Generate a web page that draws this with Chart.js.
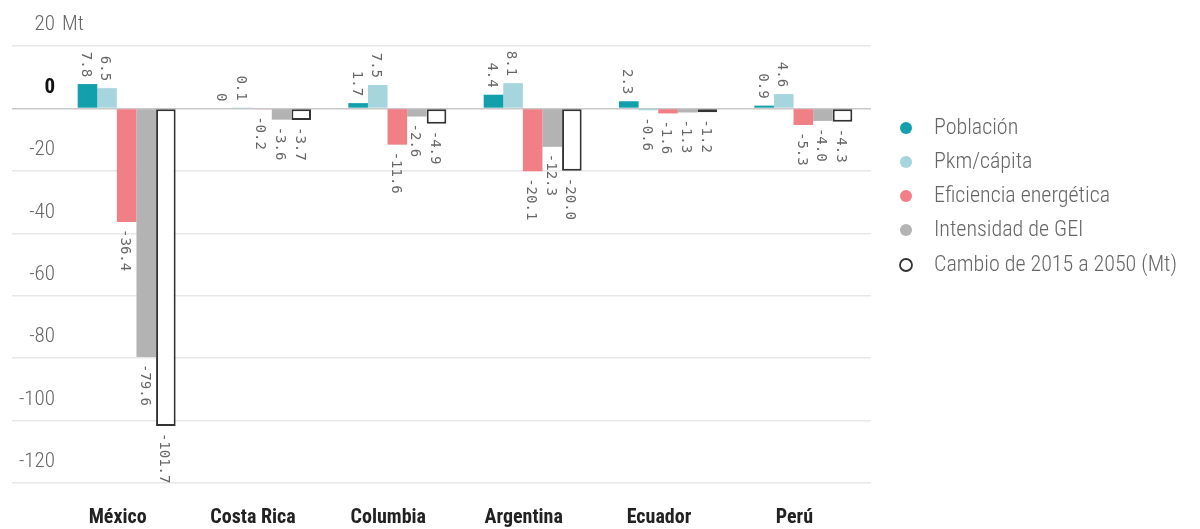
<!DOCTYPE html>
<html><head><meta charset="utf-8">
<script src="https://cdn.jsdelivr.net/npm/chart.js@4.4.1/dist/chart.umd.min.js"></script>
<style>html,body{margin:0;padding:0;background:#fff}#wrap{width:1200px;height:529px;position:relative}</style>
</head><body><div id="wrap"><canvas id="c"></canvas></div>
<script>
const categories = ['México','Costa Rica','Columbia','Argentina','Ecuador','Perú'];
const poblacion   = [7.8, 0, 1.7, 4.4, 2.3, 0.9];
const pkmCapita   = [6.5, 0.1, 7.5, 8.1, -0.6, 4.6];
const eficiencia  = [-36.4, -0.2, -11.6, -20.1, -1.6, -5.3];
const intensidad  = [-79.6, -3.6, -2.6, -12.3, -1.3, -4.0];
const cambio      = [-101.7, -3.7, -4.9, -20.0, -1.2, -4.3];
const seriesNames = ['Población','Pkm/cápita','Eficiencia energética','Intensidad de GEI','Cambio de 2015 a 2050 (Mt)'];
const yTicks = [20, 0, -20, -40, -60, -80, -100, -120];

const colors = ['#139fac','#a7d5dd','#f07f86','#b3b3b3','#ffffff'];
const COND = '"Roboto Condensed", "Roboto", sans-serif';

const valueLabels = {
  id: 'valueLabels',
  afterDatasetsDraw(chart) {
    const ctx = chart.ctx;
    ctx.save();
    ctx.font = '14px "DejaVu Sans Mono", monospace';
    ctx.fillStyle = '#666';
    ctx.textBaseline = 'middle';
    chart.data.datasets.forEach((ds, di) => {
      const meta = chart.getDatasetMeta(di);
      meta.data.forEach((bar, i) => {
        const v = ds.data[i];
        const txt = v === 0 ? '0' : v.toFixed(1);
        ctx.save();
        if (v >= 0) {
          ctx.translate(bar.x - 2, Math.min(bar.y, bar.base) - 7);
          ctx.rotate(Math.PI / 2);
          ctx.textAlign = 'right';
        } else {
          ctx.translate(bar.x - 2, Math.max(bar.y, bar.base) + 7);
          ctx.rotate(Math.PI / 2);
          ctx.textAlign = 'left';
        }
        ctx.fillText(txt, 0, 0);
        ctx.restore();
      });
    });
    ctx.restore();
  }
};

const extras = {
  id: 'extras',
  afterDraw(chart) {
    const ctx = chart.ctx;
    const y = chart.scales.y;
    ctx.save();
    ctx.font = '300 21px ' + COND;
    ctx.fillStyle = '#666';
    ctx.textBaseline = 'middle';
    ctx.textAlign = 'left';
    ctx.fillText('Mt', 62, y.getPixelForValue(20) - 21);
    const rows = [128, 162, 196, 230, 265];
    seriesNames.forEach((name, i) => {
      const cy = rows[i];
      ctx.beginPath();
      ctx.arc(906, cy, 6, 0, Math.PI * 2);
      if (i === 4) {
        ctx.fillStyle = '#fff'; ctx.fill();
        ctx.lineWidth = 1.8; ctx.strokeStyle = '#333'; ctx.stroke();
      } else {
        ctx.fillStyle = colors[i]; ctx.fill();
      }
      ctx.fillStyle = '#666';
      ctx.font = '300 22px ' + COND;
      ctx.fillText(name, 934, cy);
    });
    ctx.restore();
  }
};

const data = {
  labels: categories,
  datasets: [poblacion, pkmCapita, eficiencia, intensidad, cambio].map((arr, i) => ({
    label: seriesNames[i],
    data: arr,
    backgroundColor: colors[i],
    borderColor: i === 4 ? '#333' : colors[i],
    borderWidth: i === 4 ? 2 : 0,
    borderSkipped: false,
    categoryPercentage: 0.724,
    barPercentage: 1.0
  }))
};

new Chart(document.getElementById('c'), {
  type: 'bar',
  data,
  options: {
    responsive: true,
    maintainAspectRatio: false,
    animation: false,
    layout: { padding: { left: 12, right: 329, top: 46, bottom: 0 } },
    plugins: { legend: { display: false }, tooltip: { enabled: false } },
    scales: {
      x: {
        grid: { display: false },
        border: { display: false },
        ticks: {
          padding: 15,
          labelOffset: -9,
          color: '#222',
          font: { family: COND, size: 20, weight: 'bold' },
          maxRotation: 0
        },
        afterFit(s) { s.height = 46; }
      },
      y: {
        min: -120, max: 20,
        afterBuildTicks(s) { s.ticks = yTicks.map(v => ({ value: v })); },
        border: { display: false },
        grid: {
          color: c => (c.tick && c.tick.value === 0) ? '#c8c8c8' : '#e8e8e8',
          lineWidth: 1.5,
          drawTicks: true,
          tickLength: 47
        },
        ticks: {
          padding: -43,
          labelOffset: -21,
          color: c => c.tick && c.tick.value === 0 ? '#111' : '#666',
          font: c => c.tick && c.tick.value === 0 ? { family: COND, size: 21, weight: 'bold' } : { family: COND, size: 21, weight: '300' },
          callback: v => String(v)
        },
        afterFit(s) { s.width = 47; }
      }
    }
  },
  plugins: [valueLabels, extras]
});
</script>
</body></html>
